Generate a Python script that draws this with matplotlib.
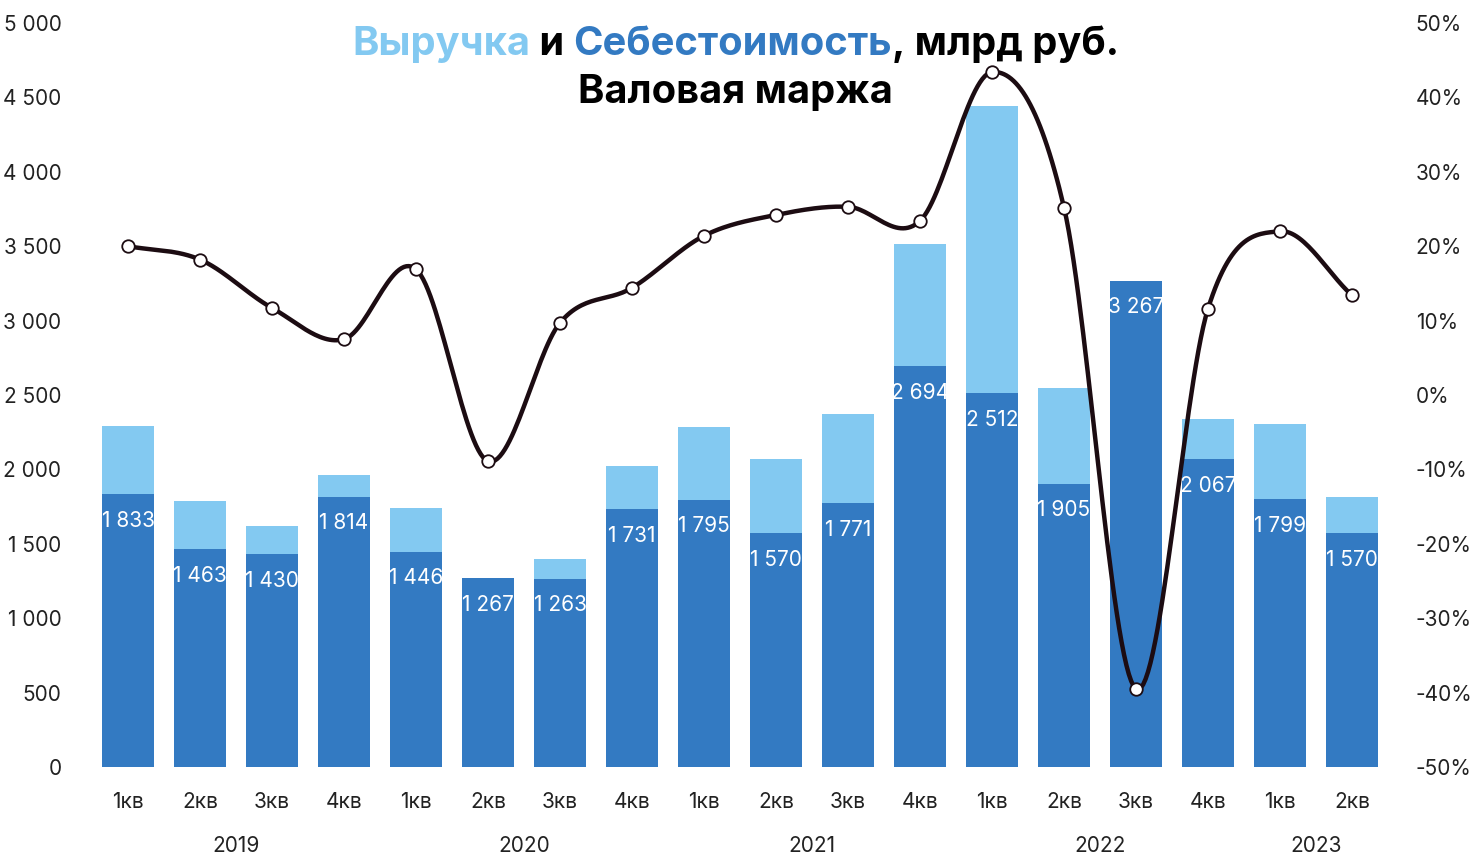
import numpy as np
import matplotlib
matplotlib.use("Agg")
import matplotlib.pyplot as plt
from matplotlib.transforms import blended_transform_factory

# ---- data ----
quarters = ["1кв", "2кв", "3кв", "4кв",
            "1кв", "2кв", "3кв", "4кв",
            "1кв", "2кв", "3кв", "4кв",
            "1кв", "2кв", "3кв", "4кв",
            "1кв", "2кв"]
years = ["2019", "2020", "2021", "2022", "2023"]
year_sizes = [4, 4, 4, 4, 2]
revenue = [2292, 1788, 1620, 1962,
           1741, 1163, 1398, 2023,
           2285, 2070, 2372, 3515,
           4442, 2547, 2342, 2339,
           2305, 1814]
cost = [1833, 1463, 1430, 1814,
        1446, 1267, 1263, 1731,
        1795, 1570, 1771, 2694,
        2512, 1905, 3267, 2067,
        1799, 1570]
margin = [20.0, 18.2, 11.7, 7.5,
          16.9, -8.9, 9.7, 14.4,
          21.4, 24.2, 25.3, 23.4,
          43.4, 25.2, -39.5, 11.6,
          22.0, 13.4]
left_ticks = [0, 500, 1000, 1500, 2000, 2500, 3000, 3500, 4000, 4500, 5000]
right_ticks = [-50, -40, -30, -20, -10, 0, 10, 20, 30, 40, 50]

C_REV = "#83C9F1"
C_COST = "#337AC2"
C_LINE = "#1C0C12"
FONT = ["Inter", "DejaVu Sans"]
plt.rcParams['font.family'] = FONT

W, H, DPI = 1471, 860, 100
fig = plt.figure(figsize=(W / DPI, H / DPI), dpi=DPI)
ax = fig.add_axes([92 / W, 1 - 767 / H, (1388 - 92) / W, (767 - 23) / H])
ax2 = ax.twinx()

x = np.arange(len(quarters))
ax.set_xlim(-0.5, len(quarters) - 0.5)
ax.set_ylim(0, 5000)
ax2.set_ylim(-50, 50)

bw = 0.71
ax.bar(x, revenue, width=bw, color=C_REV, zorder=1)
bars = ax.bar(x, cost, width=bw, color=C_COST, zorder=2)

for b, v in zip(bars, cost):
    s = f"{v:,}".replace(",", " ")
    t = ax.annotate(s, (b.get_x() + b.get_width() / 2, b.get_height()),
                    xytext=(0, -19), textcoords="offset points",
                    ha="center", va="center", color="white", fontsize=15,
                    zorder=3)
    t.set_clip_path(b)

# smooth line (Catmull-Rom through the data points)
def catmull(xs, ys, n=30):
    xs = np.asarray(xs, float); ys = np.asarray(ys, float)
    px = np.concatenate([[2 * xs[0] - xs[1]], xs, [2 * xs[-1] - xs[-2]]])
    py = np.concatenate([[2 * ys[0] - ys[1]], ys, [2 * ys[-1] - ys[-2]]])
    ox, oy = [], []
    for i in range(1, len(px) - 2):
        t = np.linspace(0, 1, n, endpoint=False)
        for P, out in ((px, ox), (py, oy)):
            p0, p1, p2, p3 = P[i - 1], P[i], P[i + 1], P[i + 2]
            out.extend(0.5 * ((2 * p1) + (-p0 + p2) * t +
                              (2 * p0 - 5 * p1 + 4 * p2 - p3) * t ** 2 +
                              (-p0 + 3 * p1 - 3 * p2 + p3) * t ** 3))
    ox.append(xs[-1]); oy.append(ys[-1])
    return np.array(ox), np.array(oy)

sx, sy = catmull(x, margin)
ax2.plot(sx, sy, color=C_LINE, lw=3.2, zorder=5, solid_capstyle="round")
ax2.plot(x, margin, ls="none", marker="o", ms=9, mfc="white", mec=C_LINE,
         mew=1.3, zorder=6)

# axes styling
for a in (ax, ax2):
    for sp in a.spines.values():
        sp.set_visible(False)
    a.tick_params(length=0, labelsize=15, colors="#222222")
ax.set_yticks(left_ticks, [f"{v:,}".replace(",", " ") for v in left_ticks])
ax.tick_params(axis="y", pad=22)
ax2.set_yticks(right_ticks, [f"{v}%" for v in right_ticks])
ax2.tick_params(axis="y", pad=20)
ax.set_xticks(x, quarters)
ax.tick_params(axis="x", pad=18)

tr = blended_transform_factory(ax.transData, ax.transAxes)
start = 0
for yr, n in zip(years, year_sizes):
    cx = start + (n - 1) / 2
    ax.text(cx, -0.106, yr, transform=tr, ha="center", va="center",
            fontsize=15, color="#222222")
    start += n

# title with coloured pieces
renderer = fig.canvas.get_renderer()
tfs = 28.7
pieces = [("Выручка", C_REV), (" и ", "black"), ("Себестоимость", C_COST),
          (", млрд руб.", "black")]
texts = []
for s, c in pieces:
    t = fig.text(0, 0, s, fontsize=tfs, fontweight="bold", color=c,
                 va="baseline", ha="left")
    texts.append(t)
widths = [t.get_window_extent(renderer).width for t in texts]
total = sum(widths)
xpos = W / 2 - total / 2
for t, w in zip(texts, widths):
    t.set_position((xpos / W, 1 - 55 / H))
    xpos += w
fig.text(0.5, 1 - 103 / H, "Валовая маржа", fontsize=tfs, fontweight="bold",
         color="black", ha="center", va="baseline")

fig.savefig("out.png", dpi=DPI)
